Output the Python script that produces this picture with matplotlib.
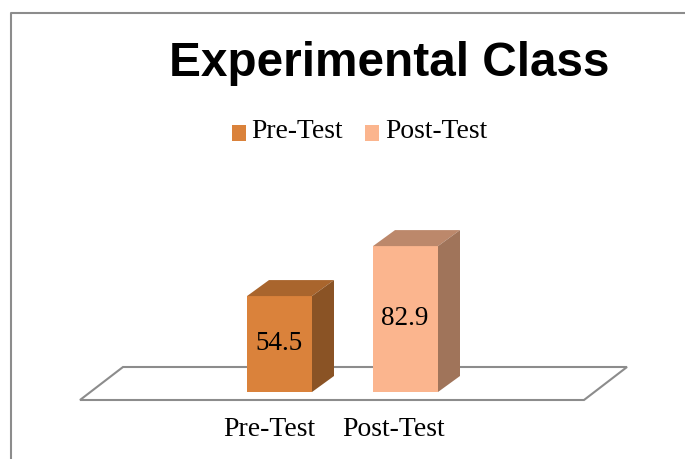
import matplotlib.pyplot as plt
from matplotlib.patches import Polygon, Patch, Rectangle
from matplotlib.legend_handler import HandlerPatch

plt.rcParams['font.family'] = ['Liberation Serif', 'DejaVu Serif']

# data
categories = ['Pre-Test', 'Post-Test']
values = [54.5, 82.9]

# colours per bar
front_colors = ['#DA823B', '#FBB58E']
top_colors = ['#A9652D', '#BC886B']
side_colors = ['#8A5325', '#A0745A']
line_grey = '#8C8C8C'

fig = plt.figure(figsize=(6.85, 4.59), dpi=100)

# layout axes in image pixels, y pointing down
ax_px = fig.add_axes([0, 0, 1, 1])
ax_px.set_xlim(0, 685)
ax_px.set_ylim(459, 0)
ax_px.axis('off')

# value axes on top, same area: 0 sits on the bar base
base_px = 392
px_per_unit = 1.76
ax = fig.add_axes([0, 0, 1, 1], facecolor='none')
ax.set_xlim(0, 685)
ax.set_ylim((base_px - 459) / px_per_unit, base_px / px_per_unit)
ax.axis('off')

# outer frame (left and top only, the rest is cropped)
ax_px.plot([11.5, 11.5, 685], [459, 12.5, 12.5], color=line_grey, lw=1.5, solid_capstyle='butt')

# floor
ax_px.add_patch(Polygon([(80, 400), (584, 400), (627, 367), (123, 367)], closed=True,
                        facecolor='white', edgecolor=line_grey, lw=1.5))

# bars with fake depth
bar_left = [247, 373]
bar_w = 65
dx = 22
dy = 16 / px_per_unit
bars = ax.bar(bar_left, values, width=bar_w, align='edge', color=front_colors, zorder=3)
for x0, v, c_top, c_side in zip(bar_left, values, top_colors, side_colors):
    x1 = x0 + bar_w
    ax.add_patch(Polygon([(x0, v), (x1, v), (x1 + dx, v + dy), (x0 + dx, v + dy)],
                         closed=True, facecolor=c_top, edgecolor='none', zorder=3))
    ax.add_patch(Polygon([(x1, 0), (x1 + dx, dy), (x1 + dx, v + dy), (x1, v)],
                         closed=True, facecolor=c_side, edgecolor='none', zorder=3))
    ax.text(x0 + bar_w / 2 - 0.5, v / 2 + 0.5, str(v), ha='center', va='center', fontsize=19.5,
            color='black', zorder=4)

# category labels
for x0, name in zip([269, 394], categories):
    ax_px.text(x0, 429, name, ha='center', va='center', fontsize=20, color='black')

# title
ax_px.text(389.5, 63.5, 'Experimental Class', ha='center', va='center', fontsize=34.4,
           fontweight='bold', family=['Liberation Sans', 'DejaVu Sans'], color='black')


# legend swatches sit on the text baseline, lower than the default
def low_square(legend, orig_handle, xdescent, ydescent, width, height, fontsize):
    return Rectangle((-xdescent, -ydescent - 3.2), width, height)


handles = [Patch(facecolor=c, edgecolor='none') for c in front_colors]
fig.legend(handles, categories, loc='center', bbox_to_anchor=(359.5 / 685, 1 - 132 / 459),
           ncol=2, frameon=False, fontsize=19.8, handlelength=0.5, handleheight=0.5,
           handletextpad=0.22, columnspacing=0.8, borderpad=0,
           handler_map={Patch: HandlerPatch(patch_func=low_square)})

plt.savefig('out.png', dpi=100)
